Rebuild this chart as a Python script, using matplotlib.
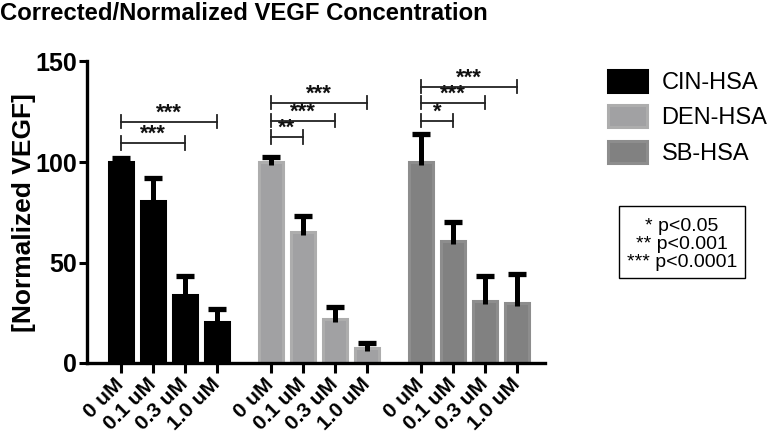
import matplotlib
matplotlib.use("Agg")
import matplotlib.pyplot as plt
from matplotlib.patches import Patch, Rectangle
import numpy as np

plt.rcParams['font.family'] = ['Liberation Sans', 'DejaVu Sans']

groups = ["CIN-HSA", "DEN-HSA", "SB-HSA"]
doses = ["0 uM", "0.1 uM", "0.3 uM", "1.0 uM"]
cin_vals = [100, 80.5, 34, 20.5]
cin_err = [2, 11.5, 9.5, 6.5]
den_vals = [100, 65, 22, 7.5]
den_err = [2.5, 8, 6, 2.5]
sb_vals = [100, 60.5, 31, 30]
sb_err = [14, 9.5, 12.5, 14.5]

# significance brackets: (group, from dose idx, to dose idx, y level, label)
sig_group = [0, 0, 1, 1, 1, 2, 2, 2]
sig_from = [0, 0, 0, 0, 0, 0, 0, 0]
sig_to = [2, 3, 1, 2, 3, 1, 2, 3]
sig_y = [109.5, 120, 112.5, 120.5, 129.5, 120.5, 129.5, 137.5]
sig_lab = ["***", "***", "**", "***", "***", "*", "***", "***"]

pvalue_lines = ["* p<0.05", "** p<0.001", "*** p<0.0001"]

face = ["#000000", "#a1a1a3", "#818181"]
edge = ["#000000", "#adadad", "#8d8d8d"]

W, H = 775, 437
fig = plt.figure(figsize=(W / 100, H / 100), dpi=100)
ax = fig.add_axes([87 / W, 1 - 363 / H, (545 - 87) / W, (363 - 61.5) / H])

group_gap = 4.69
all_vals = [cin_vals, den_vals, sb_vals]
all_err = [cin_err, den_err, sb_err]
positions = []
for g in range(3):
    x = np.arange(4) + g * group_gap
    vals = np.array(all_vals[g])
    err = np.array(all_err[g])
    positions.append(x)
    ax.bar(x, vals, width=0.74, color=face[g], edgecolor=edge[g],
           linewidth=2.2, zorder=2)
    ax.vlines(x, vals - 1.5, vals + err, color='black', lw=3.6, zorder=3)
    ax.plot(x, vals + err, ls='none', marker='_', markersize=13, mew=3.8,
            color='black', zorder=3)

for g, i, j, y, lab in zip(sig_group, sig_from, sig_to, sig_y, sig_lab):
    x0 = positions[g][i]
    x1 = positions[g][j]
    ax.plot([x0, x1], [y, y], color='#222222', lw=1.3, zorder=4)
    for xx in (x0, x1):
        ax.plot([xx, xx], [y - 3.3, y + 3.3], color='#222222', lw=1.3, zorder=4)
    ax.text((x0 + x1) / 2, y - 1.0, lab, ha='center', va='bottom',
            fontsize=16, fontweight='bold', color='#111111')

ax.set_xlim(-1.06, 13.25)
ax.set_ylim(0, 150)
ax.set_yticks([0, 50, 100, 150])
ax.set_yticklabels(["0", "50", "100", "150"], fontsize=18, fontweight='bold')
xt = np.concatenate(positions)
ax.set_xticks(xt)
ax.set_xticklabels(doses * 3, fontsize=15, fontweight='bold', rotation=45,
                   ha='right', va='center', rotation_mode='anchor')
ax.tick_params(axis='y', length=6, width=2.2, pad=1)
ax.tick_params(axis='x', length=7, width=2.2, pad=6)
for s in ['top', 'right']:
    ax.spines[s].set_visible(False)
for s in ['left', 'bottom']:
    ax.spines[s].set_linewidth(2.4)
ax.set_ylabel("[Normalized VEGF]", fontsize=19, fontweight='bold', labelpad=0)

fig.text(0, 1 - 2 / H, "Corrected/Normalized VEGF Concentration", ha='left', va='top',
         fontsize=17.2, fontweight='bold')

handles = [Patch(facecolor=face[g], edgecolor=edge[g], linewidth=2.2) for g in range(3)]
leg = ax.legend(handles, groups, loc='upper left', bbox_to_anchor=(608 / W, 1 - 70 / H),
                bbox_transform=fig.transFigure, frameon=False, fontsize=17,
                handlelength=1.65, handleheight=1.05, handletextpad=0.62,
                labelspacing=0.48, borderpad=0, borderaxespad=0)

fig.patches.append(Rectangle((619 / W, 1 - 278 / H), (745 - 619) / W, (278 - 206) / H,
                             transform=fig.transFigure, fill=False, edgecolor='black',
                             linewidth=1.0))
for k, line in enumerate(pvalue_lines):
    fig.text(682 / W, 1 - (231 + 18 * k) / H, line, ha='center', va='baseline',
             fontsize=14)

fig.savefig("out.png", dpi=100)
